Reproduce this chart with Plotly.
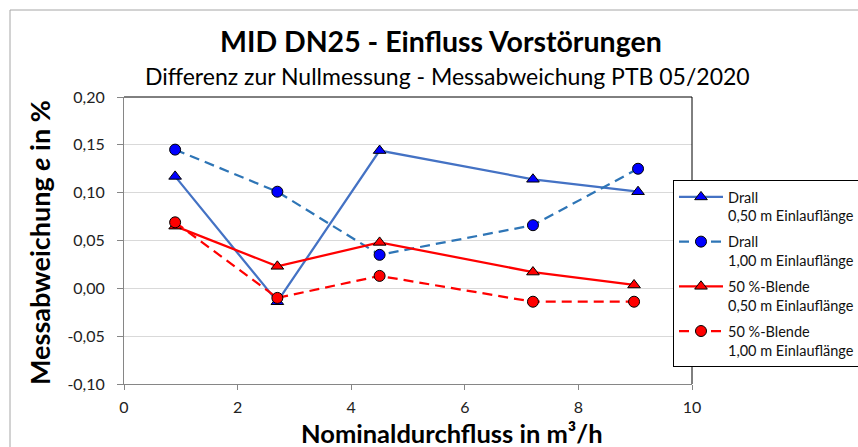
import plotly.graph_objects as go

# Nominal flow rates (m³/h) at which each configuration was measured
flow_drall = [0.9, 2.7, 4.5, 7.2, 9.05]
flow_blende = [0.9, 2.7, 4.5, 7.2, 8.98]

# Measurement deviation e in % (difference to the zero measurement)
drall_050 = [0.117, -0.014, 0.144, 0.114, 0.101]
drall_100 = [0.145, 0.101, 0.035, 0.066, 0.125]
blende_050 = [0.065, 0.023, 0.048, 0.017, 0.0035]
blende_100 = [0.069, -0.010, 0.013, -0.014, -0.014]

series_names = [
    "Drall<br>0,50 m Einlauflänge",
    "Drall<br>1,00 m Einlauflänge",
    "50 %-Blende<br>0,50 m Einlauflänge",
    "50 %-Blende<br>1,00 m Einlauflänge",
]

y_tickvals = [-0.10, -0.05, 0.00, 0.05, 0.10, 0.15, 0.20]
y_ticktext = ["-0,10", "-0,05", "0,00", "0,05", "0,10", "0,15", "0,20"]
x_tickvals = [0, 2, 4, 6, 8, 10]

FONT = "Lato"

W, H = 858, 447
L, R, T, B = 124, 166, 97, 63
PW, PH = W - L - R, H - T - B


def px_x(px):
    return (px - L) / PW


def px_y(py):
    return 1 + (T - py) / PH


fig = go.Figure()

styles = [
    (flow_drall, drall_050, "#4472C4", "solid", "triangle-up", "#0000FF", 11),
    (flow_drall, drall_100, "#2E75B6", "10px,6px", "circle", "#0000FF", 11),
    (flow_blende, blende_050, "#FF0000", "solid", "triangle-up", "#FF0000", 11),
    (flow_blende, blende_100, "#FF0000", "10px,6px", "circle", "#FF0000", 11),
]

for i, (xs, ys, lc, dash, sym, mc, ms) in enumerate(styles):
    fig.add_trace(go.Scatter(
        x=xs, y=ys, name=series_names[i], mode="lines+markers",
        legendgroup=f"g{i}",
        line=dict(color=lc, width=2.25, dash=dash),
        marker=dict(symbol=sym, color=mc, size=ms, line=dict(color="black", width=1)),
    ))

axis_grey = "#868686"

fig.update_layout(
    width=W, height=H,
    margin=dict(l=L, r=R, t=T, b=B, autoexpand=False),
    paper_bgcolor="white", plot_bgcolor="white",
    font=dict(family=FONT, color="#222222"),
    showlegend=True,
    legend=dict(
        x=px_x(673), y=px_y(180), xanchor="left", yanchor="top",
        bordercolor="black", borderwidth=1, bgcolor="white",
        font=dict(family=FONT, size=14.5, color="#111111"),
        valign="top", tracegroupgap=4, itemwidth=44,
    ),
    xaxis=dict(
        range=[0, 10], tickvals=x_tickvals, showgrid=False, zeroline=False,
        showline=True, linecolor=axis_grey, linewidth=1,
        ticks="outside", ticklen=5, tickcolor=axis_grey,
        ticklabelstandoff=4,
        tickfont=dict(size=16, color="#222222"),
    ),
    yaxis=dict(
        range=[-0.10, 0.20], tickvals=y_tickvals, ticktext=y_ticktext,
        showgrid=True, gridcolor="#D9D9D9", gridwidth=1, zeroline=False,
        showline=True, linecolor=axis_grey, linewidth=1,
        ticks="outside", ticklen=6, tickcolor=axis_grey,
        ticklabelstandoff=9,
        tickfont=dict(size=16, color="#222222"),
    ),
)

# plot-area frame on top and right, plus outer chart border
fig.add_shape(type="line", xref="paper", yref="paper", x0=0, x1=1, y0=1, y1=1,
              line=dict(color="black", width=1))
fig.add_shape(type="line", xref="paper", yref="paper", x0=1, x1=1, y0=0, y1=1,
              line=dict(color="black", width=1))
fig.add_shape(type="rect", xref="paper", yref="paper",
              x0=px_x(10), x1=px_x(900), y0=px_y(500), y1=px_y(10),
              line=dict(color="#A6A6A6", width=1))

fig.add_annotation(text="<b>MID DN25 - Einfluss Vorstörungen</b>",
                   xref="paper", yref="paper", x=px_x(441), y=px_y(41),
                   xanchor="center", yanchor="middle", showarrow=False,
                   font=dict(family=FONT, size=28.5, color="black"))
fig.add_annotation(text="Differenz zur Nullmessung - Messabweichung PTB 05/2020",
                   xref="paper", yref="paper", x=px_x(447), y=px_y(76),
                   xanchor="center", yanchor="middle", showarrow=False,
                   font=dict(family=FONT, size=23, color="black"))
fig.add_annotation(text="<b>Messabweichung <i>e</i> in %</b>",
                   xref="paper", yref="paper", x=px_x(39), y=px_y(243),
                   xanchor="center", yanchor="middle", showarrow=False, textangle=-90,
                   font=dict(family=FONT, size=27, color="black"))
fig.add_annotation(text="<b>Nominaldurchfluss in m³/h</b>",
                   xref="paper", yref="paper", x=px_x(452), y=px_y(433),
                   xanchor="center", yanchor="middle", showarrow=False, borderpad=0,
                   font=dict(family=FONT, size=25.5, color="black"))

fig.write_html("out.html")
